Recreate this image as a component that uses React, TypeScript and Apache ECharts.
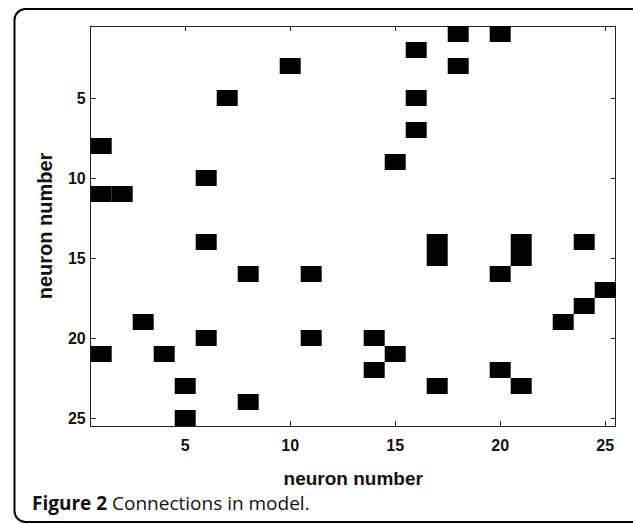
import React, { useEffect, useRef } from "react";
import * as echarts from "echarts";

// Neuron indices (axis categories) and tick labels
const neurons: string[] = Array.from({ length: 25 }, (_, i) => String(i + 1));
const tickLabels: string[] = ["5", "10", "15", "20", "25"];

// Connections: target neuron (x, column) for each source row (y)
const connFrom: number[] = [
  18, 20, 16, 10, 18, 7, 16, 16, 1, 15, 6, 1, 2,
  6, 17, 21, 24, 17, 21, 8, 11, 20, 25, 24, 3, 23,
  6, 11, 14, 1, 4, 15, 14, 20, 5, 17, 21, 8, 5,
];
const connTo: number[] = [
  1, 1, 2, 3, 3, 5, 5, 7, 8, 9, 10, 11, 11,
  14, 14, 14, 14, 15, 15, 16, 16, 16, 17, 18, 19, 19,
  20, 20, 20, 21, 21, 21, 22, 22, 23, 23, 23, 24, 25,
];

const axisTitle = "neuron number";
const captionBold = "Figure 2";
const captionText = "Connections in model.";

const SANS = "'Liberation Sans', Arial, Helvetica, sans-serif";
const CAPTION_FONT = "'Open Sans', sans-serif";

export default function App() {
  const ref = useRef<HTMLDivElement>(null);

  useEffect(() => {
    document.body.style.margin = "0";
    if (!ref.current) return;
    const chart = echarts.init(ref.current, null, { renderer: "svg" });

    const showTick = (index: number, value: string) => tickLabels.indexOf(value) >= 0;
    const lineStyle = { color: "#222", width: 1 };
    const labelFont = {
      fontFamily: SANS,
      fontWeight: "bold" as const,
      fontSize: 16,
      color: "#111",
    };

    const data = connFrom.map((c, i) => [String(c), String(connTo[i])]);

    const baseX = {
      type: "category" as const,
      data: neurons,
      boundaryGap: true,
      axisLine: { show: true, lineStyle },
      axisTick: { show: true, inside: true, length: 5, alignWithLabel: true, interval: showTick, lineStyle },
      splitLine: { show: false },
    };

    chart.setOption({
      animation: false,
      backgroundColor: "#fff",
      grid: { left: 90.7, top: 26, width: 525, height: 400, containLabel: false },
      xAxis: [
        {
          ...baseX,
          position: "bottom",
          axisLabel: { ...labelFont, margin: 11, interval: showTick },
          name: axisTitle,
          nameLocation: "middle",
          nameGap: 43,
          nameTextStyle: { fontFamily: SANS, fontWeight: "bold", fontSize: 19, color: "#111" },
        },
        { ...baseX, position: "top", axisLabel: { show: false } },
      ],
      yAxis: [
        {
          ...baseX,
          inverse: true,
          position: "left",
          axisLabel: { ...labelFont, margin: 5, interval: showTick },
          name: axisTitle,
          nameLocation: "middle",
          nameGap: 36,
          nameRotate: 90,
          nameTextStyle: { fontFamily: SANS, fontWeight: "bold", fontSize: 20, color: "#111" },
        },
        { ...baseX, inverse: true, position: "right", axisLabel: { show: false } },
      ],
      series: [
        {
          type: "custom",
          xAxisIndex: 0,
          yAxisIndex: 0,
          data,
          renderItem: (params: any, api: any) => {
            const p = api.coord([api.value(0), api.value(1)]);
            const s = api.size([1, 1]);
            return {
              type: "rect",
              shape: { x: p[0] - s[0] / 2, y: p[1] - s[1] / 2, width: s[0], height: s[1] },
              style: { fill: "#000" },
            };
          },
        },
      ],
      graphic: [
        {
          type: "rect",
          shape: { x: 14.5, y: 9, width: 640, height: 513, r: 11 },
          style: { fill: "none", stroke: "#000", lineWidth: 2 },
          silent: true,
        },
        {
          type: "text",
          x: 32,
          y: 503,
          style: {
            text: `{b|${captionBold}} {n|${captionText}}`,
            verticalAlign: "middle",
            rich: {
              b: { fontFamily: CAPTION_FONT, fontWeight: "bold", fontSize: 19, fill: "#111" },
              n: { fontFamily: CAPTION_FONT, fontWeight: "normal", fontSize: 19, fill: "#111" },
            },
            fontFamily: CAPTION_FONT,
            fontSize: 19,
          },
        },
      ],
    });

    return () => chart.dispose();
  }, []);

  return (
    <div
      ref={ref}
      style={{ position: "absolute", left: 0, top: 0, width: 633, height: 524 }}
    />
  );
}
